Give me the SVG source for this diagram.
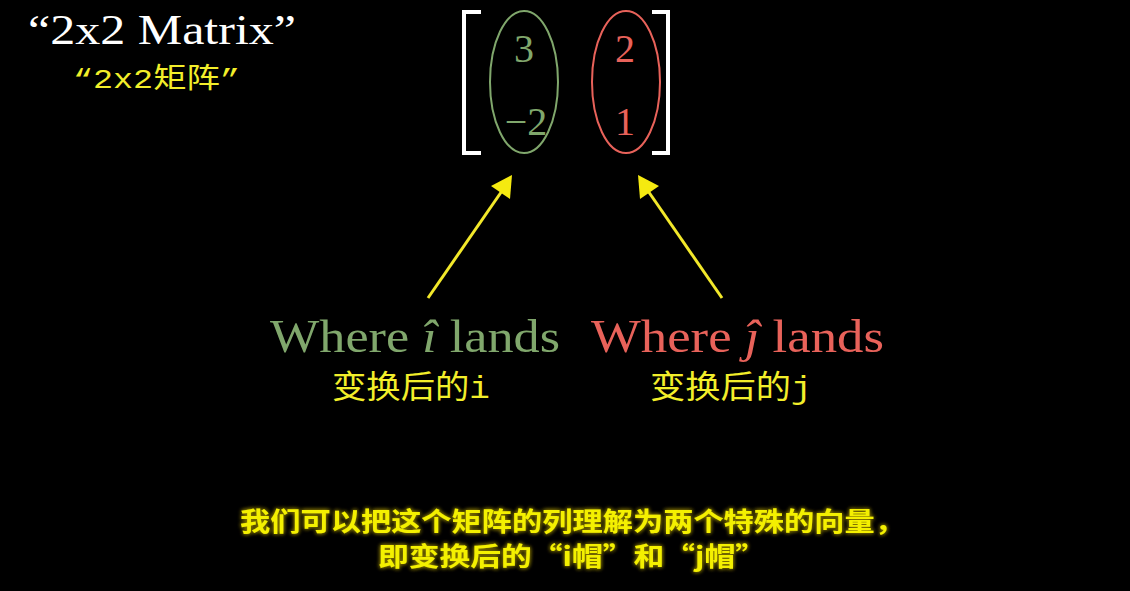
<svg xmlns="http://www.w3.org/2000/svg" width="1130" height="591" viewBox="0 0 1130 591">
<defs>
<style>
.serif{font-family:"Liberation Serif","DejaVu Serif",serif}
.cjk{font-family:"Liberation Mono","Noto Sans CJK SC",monospace;fill:#f2ee2a}
.sub{font-family:"Noto Sans CJK SC",sans-serif;font-weight:bold;fill:#f4f000;font-size:26px}
.green{fill:#80a76c}
.red{fill:#e8625a}
.arrow{stroke:#f2e82a;stroke-width:3;fill:none}
</style>
<filter id="glow" x="-10%" y="-30%" width="120%" height="160%">
<feGaussianBlur in="SourceAlpha" stdDeviation="2" result="b"/>
<feFlood flood-color="#8a7a00"/>
<feComposite in2="b" operator="in" result="g"/>
<feMerge><feMergeNode in="g"/><feMergeNode in="g"/><feMergeNode in="SourceGraphic"/></feMerge>
</filter>
</defs>
<rect width="1130" height="591" fill="#000"/>

<g id="title">
<text class="serif" x="28" y="44" font-size="42" fill="#fff" textLength="268" lengthAdjust="spacingAndGlyphs">“2x2 Matrix”</text>
<text class="cjk" x="73" y="88" font-size="28" textLength="167" lengthAdjust="spacingAndGlyphs">“2x2矩阵”</text>
</g>

<g id="matrix">
<path d="M481,12 H464 V153 H481" fill="none" stroke="#fff" stroke-width="4"/>
<path d="M652,12 H668 V153 H652" fill="none" stroke="#fff" stroke-width="4"/>
<g id="col1">
<ellipse cx="524" cy="82" rx="34" ry="71" fill="none" stroke="#80a76c" stroke-width="2"/>
<text class="serif green" x="524" y="62" font-size="40" text-anchor="middle">3</text>
<text class="serif green" x="526" y="135" font-size="40" text-anchor="middle">−2</text>
</g>
<g id="col2">
<ellipse cx="626" cy="82" rx="34" ry="71" fill="none" stroke="#e8625a" stroke-width="2"/>
<text class="serif red" x="625" y="62" font-size="40" text-anchor="middle">2</text>
<text class="serif red" x="625" y="135" font-size="40" text-anchor="middle">1</text>
</g>
</g>

<g id="connectors">
<line class="arrow" x1="428" y1="298" x2="504" y2="188"/>
<polygon points="512,175 510,199 491,186" fill="#f5ea10"/>
<line class="arrow" x1="722" y1="298" x2="646" y2="188"/>
<polygon points="638,175 640,199 659,186" fill="#f5ea10"/>
</g>

<g id="label-i">
<text class="serif green" x="270" y="352" font-size="46" textLength="290" lengthAdjust="spacingAndGlyphs">Where <tspan font-style="italic">î</tspan> lands</text>
<text class="cjk" x="332" y="398" font-size="32" textLength="158" lengthAdjust="spacingAndGlyphs">变换后的i</text>
</g>

<g id="label-j">
<text class="serif red" x="591" y="352" font-size="46" textLength="293" lengthAdjust="spacingAndGlyphs">Where <tspan font-style="italic">ĵ</tspan> lands</text>
<text class="cjk" x="650" y="398" font-size="32" textLength="162" lengthAdjust="spacingAndGlyphs">变换后的j</text>
</g>

<g id="subtitle" filter="url(#glow)">
<text class="sub" x="240" y="531" textLength="665" lengthAdjust="spacingAndGlyphs">我们可以把这个矩阵的列理解为两个特殊的向量，</text>
<text class="sub" x="378" y="566" textLength="388" lengthAdjust="spacingAndGlyphs">即变换后的“i帽”和“j帽”</text>
</g>
</svg>
